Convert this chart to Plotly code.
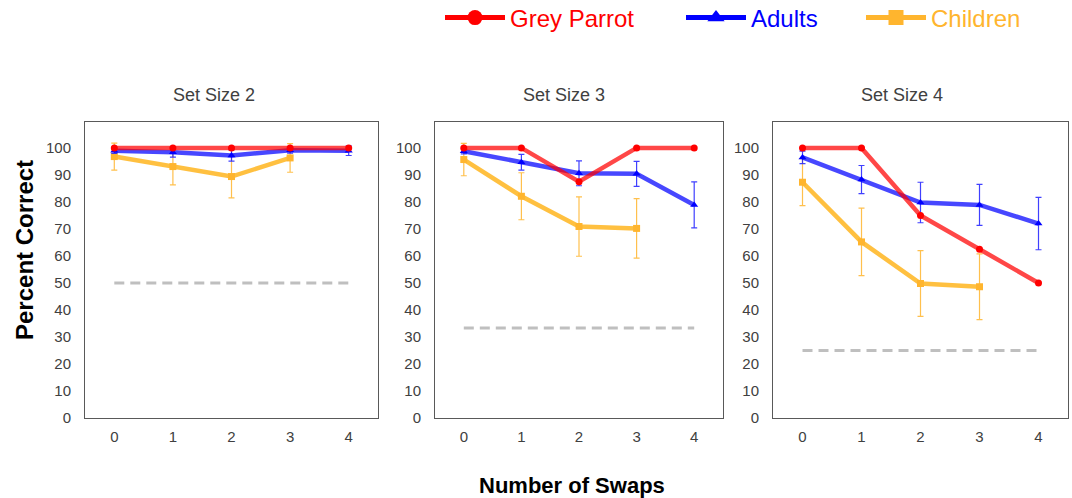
import plotly.graph_objects as go
from plotly.subplots import make_subplots

swaps = [0, 1, 2, 3, 4]
swaps_children = [0, 1, 2, 3]
set_sizes = ["Set Size 2", "Set Size 3", "Set Size 4"]
chance = [50, 33.3, 25]

parrot_ss2 = [100, 100, 100, 100, 100]
parrot_ss3 = [100, 100, 87.5, 100, 100]
parrot_ss4 = [100, 100, 75, 62.5, 50]

adults_ss2 = [99, 98.4, 97.2, 99.1, 99]
adults_err_ss2 = [1, 1.8, 2.1, 1, 1.8]
adults_ss3 = [98.8, 94.7, 90.6, 90.4, 78.9]
adults_err_ss3 = [1, 2.9, 4.6, 4.6, 8.5]
adults_ss4 = [96.5, 88.3, 79.8, 78.9, 72]
adults_err_ss4 = [2.3, 5.2, 7.5, 7.6, 9.7]

children_ss2 = [96.8, 93.1, 89.4, 96.3]
children_err_ss2 = [5, 6.8, 7.9, 5.3]
children_ss3 = [95.7, 82.1, 70.9, 70.2]
children_err_ss3 = [6, 8.7, 11, 11]
children_ss4 = [87.3, 65.2, 49.8, 48.6]
children_err_ss4 = [8.7, 12.5, 12.2, 12.2]

y_ticks = [0, 10, 20, 30, 40, 50, 60, 70, 80, 90, 100]
series_names = ["Grey Parrot", "Adults", "Children"]

parrot = [parrot_ss2, parrot_ss3, parrot_ss4]
adults = [adults_ss2, adults_ss3, adults_ss4]
adults_err = [adults_err_ss2, adults_err_ss3, adults_err_ss4]
children = [children_ss2, children_ss3, children_ss4]
children_err = [children_err_ss2, children_err_ss3, children_err_ss4]

RED = "#FF0000"
RED_L = "rgba(255,0,0,0.72)"
BLUE = "#0000FF"
BLUE_L = "rgba(0,0,255,0.72)"
BLUE_E = "rgba(30,30,255,0.85)"
ORANGE = "#FFB52E"
ORANGE_L = "rgba(255,181,30,0.85)"
ORANGE_E = "rgba(255,181,46,0.85)"
GRAY_TXT = "#404040"
FONT = "Liberation Sans, Arial, sans-serif"

W, H = 1072, 498
fig = make_subplots(rows=1, cols=3)

x_domains = [(85, 378), (435, 723), (773, 1068)]
title_x = [214, 564, 902]
y_top, y_bot = 122, 418

for i in range(3):
    col = i + 1
    fig.add_trace(go.Scatter(
        x=swaps, y=[chance[i]] * len(swaps), mode="lines",
        line=dict(color="#BFBFBF", width=3, dash="10px,6px"),
        showlegend=False, hoverinfo="skip"), row=1, col=col)
    fig.add_trace(go.Scatter(
        x=swaps_children, y=children[i], mode="lines+markers", name=series_names[2],
        line=dict(color=ORANGE_L, width=4.5), marker=dict(symbol="square", size=7, color=ORANGE),
        error_y=dict(type="data", array=children_err[i], color=ORANGE_E, thickness=1.2, width=3),
        showlegend=False), row=1, col=col)
    fig.add_trace(go.Scatter(
        x=swaps, y=adults[i], mode="lines+markers", name=series_names[1],
        line=dict(color=BLUE_L, width=4.5), marker=dict(symbol="triangle-up", size=7, color=BLUE),
        error_y=dict(type="data", array=adults_err[i], color=BLUE_E, thickness=1.2, width=3),
        showlegend=False), row=1, col=col)
    fig.add_trace(go.Scatter(
        x=swaps, y=parrot[i], mode="lines+markers", name=series_names[0],
        line=dict(color=RED_L, width=4.5), marker=dict(symbol="circle", size=7, color=RED),
        showlegend=False), row=1, col=col)

    xd = (x_domains[i][0] / W, x_domains[i][1] / W)
    fig.update_xaxes(domain=list(xd), range=[-0.5, 4.5], tickvals=swaps,
                     showgrid=False, zeroline=False, showline=True, mirror=True,
                     linecolor="#595959", linewidth=1, ticks="",
                     ticklabelstandoff=5,
                     tickfont=dict(size=15, color=GRAY_TXT, family=FONT), row=1, col=col)
    fig.update_yaxes(domain=[1 - y_bot / H, 1 - y_top / H], range=[0, 109.6], tickvals=y_ticks,
                     showgrid=False, zeroline=False, showline=True, mirror=True,
                     linecolor="#595959", linewidth=1, ticks="",
                     ticklabelstandoff=10,
                     tickfont=dict(size=15, color=GRAY_TXT, family=FONT), row=1, col=col)
    fig.add_annotation(text=set_sizes[i], x=title_x[i] / W, y=1 - 95 / H,
                       xref="paper", yref="paper", xanchor="center", yanchor="middle",
                       showarrow=False, font=dict(size=18, color=GRAY_TXT, family=FONT))

# legend entries (one legend per series, laid out in a row)
legend_specs = [
    ("legend", series_names[0], RED, "circle", 440),
    ("legend2", series_names[1], BLUE, "triangle-up", 681),
    ("legend3", series_names[2], ORANGE, "square", 861),
]
for lg, nm, c, sym, _ in legend_specs:
    fig.add_trace(go.Scatter(
        x=[None], y=[None], mode="lines+markers", name=nm, legend=lg,
        line=dict(color=c, width=5), marker=dict(symbol=sym, size=15, color=c),
        showlegend=True, hoverinfo="skip"))

legend_layout = {}
for lg, nm, c, sym, xpx in legend_specs:
    legend_layout[lg] = dict(
        orientation="h", x=xpx / W, xanchor="left", y=1 - 18 / H, yanchor="middle",
        font=dict(size=24, family=FONT, color=c), itemwidth=60,
        bgcolor="rgba(0,0,0,0)", borderwidth=0)

fig.add_annotation(text="<b>Percent Correct</b>", x=24 / W, y=1 - 250 / H, xref="paper", yref="paper",
                   xanchor="center", yanchor="middle",
                   textangle=-90, showarrow=False, font=dict(size=24, color="black", family=FONT))
fig.add_annotation(text="<b>Number of Swaps</b>", x=572 / W, y=1 - 485 / H, xref="paper", yref="paper",
                   xanchor="center", yanchor="middle",
                   showarrow=False, font=dict(size=22, color="black", family=FONT))

fig.update_layout(
    width=W, height=H,
    margin=dict(l=0, r=0, t=0, b=0, autoexpand=False),
    paper_bgcolor="white", plot_bgcolor="white",
    font=dict(family=FONT),
    **legend_layout,
)

fig.write_html("out.html", config={"displayModeBar": False},
               post_script="document.body.style.margin='0';")
